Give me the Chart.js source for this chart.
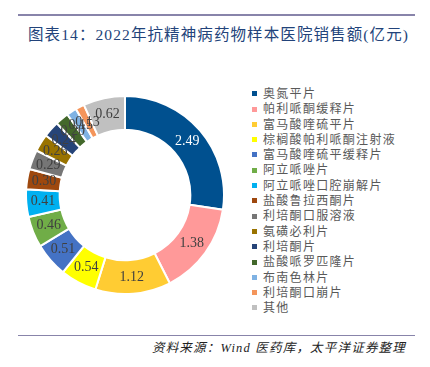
<!DOCTYPE html>
<html>
<head>
<meta charset="utf-8">
<script src="https://cdn.jsdelivr.net/npm/chart.js@4"></script>
<style>
  body { margin: 0; background: #fff; }
  #wrap { position: relative; width: 430px; height: 367px; overflow: hidden; }
  .rule { position: absolute; left: 18px; width: 397px; background: #8884aa; }
  #title {
    position: absolute; left: 28px; top: 22px; white-space: nowrap; letter-spacing: 1.1px;
    font: 15.5px "Liberation Serif", "Noto Sans CJK SC", serif; color: #22437a;
  }
  #donut { position: absolute; left: 25px; top: 95px; width: 200px; height: 200px; }
  #legend { position: absolute; left: 250px; top: 84px; }
  .item { height: 15.3px; line-height: 15.3px; font: 12px "Noto Sans CJK SC", sans-serif; color: #595959; white-space: nowrap; letter-spacing: 1.3px; }
  .item i { display: inline-block; width: 5px; height: 5px; margin: 0 6px 0 2px; vertical-align: middle; position: relative; top: -1px; }
  #source {
    position: absolute; right: 24px; top: 337px; white-space: nowrap; letter-spacing: 1.2px;
    font: italic 12.5px "Liberation Serif", "Noto Sans CJK SC", serif; color: #222;
  }
</style>
</head>
<body>
<div id="wrap">
  <div class="rule" style="top:14px;height:2px"></div>
  <div id="title">图表14：2022年抗精神病药物样本医院销售额(亿元)</div>
  <div id="donut"><canvas id="chartDonut"></canvas></div>
  <div id="legend"></div>
  <div class="rule" style="top:335px;height:1px"></div>
  <div id="source">资料来源：Wind 医药库，太平洋证券整理</div>
</div>
<script>
// ─── Data ─────────────────────────────────────────────────────────────────────
const drugs = [
  '奥氮平片', '帕利哌酮缓释片', '富马酸喹硫平片', '棕榈酸帕利哌酮注射液',
  '富马酸喹硫平缓释片', '阿立哌唑片', '阿立哌唑口腔崩解片', '盐酸鲁拉西酮片',
  '利培酮口服溶液', '氨磺必利片', '利培酮片', '盐酸哌罗匹隆片',
  '布南色林片', '利培酮口崩片', '其他'
];
const sales = [2.49, 1.38, 1.12, 0.54, 0.51, 0.46, 0.41, 0.30, 0.29, 0.26, 0.24, 0.20, 0.15, 0.13, 0.62];
const colors = [
  '#00508f', '#ff9999', '#ffcc33', '#ffff00', '#4472c4', '#70ad47', '#00b0f0', '#9e480e',
  '#767676', '#997300', '#264478', '#43682b', '#7fb2e3', '#f4955b', '#c0c0c0'
];

// ─── Legend ───────────────────────────────────────────────────────────────────
document.getElementById('legend').innerHTML = drugs.map((d, i) =>
  `<div class="item"><i style="background:${colors[i]}"></i>${d}</div>`).join('');

// ─── Slice labels ─────────────────────────────────────────────────────────────
const sliceLabels = {
  id: 'sliceLabels',
  afterDatasetsDraw(chart) {
    const { ctx } = chart;
    const meta = chart.getDatasetMeta(0);
    ctx.save();
    ctx.font = '14px "Liberation Serif", serif';
    ctx.textAlign = 'center';
    ctx.textBaseline = 'middle';
    meta.data.forEach((arc, i) => {
      const { x, y, startAngle, endAngle, innerRadius, outerRadius } =
        arc.getProps(['x', 'y', 'startAngle', 'endAngle', 'innerRadius', 'outerRadius'], true);
      const a = (startAngle + endAngle) / 2;
      const r = (innerRadius + outerRadius) / 2;
      ctx.fillStyle = i === 0 ? '#ffffff' : '#404040';
      ctx.fillText(sales[i].toFixed(2), x + Math.cos(a) * r, y + Math.sin(a) * r);
    });
    ctx.restore();
  }
};

new Chart(document.getElementById('chartDonut'), {
  type: 'doughnut',
  data: {
    labels: drugs,
    datasets: [{ data: sales, backgroundColor: colors, borderColor: '#fff', borderWidth: 2 }]
  },
  options: {
    responsive: true, maintainAspectRatio: false, animation: false,
    cutout: '66%',
    plugins: { legend: { display: false }, tooltip: { enabled: false } }
  },
  plugins: [sliceLabels]
});
</script>
</body>
</html>
